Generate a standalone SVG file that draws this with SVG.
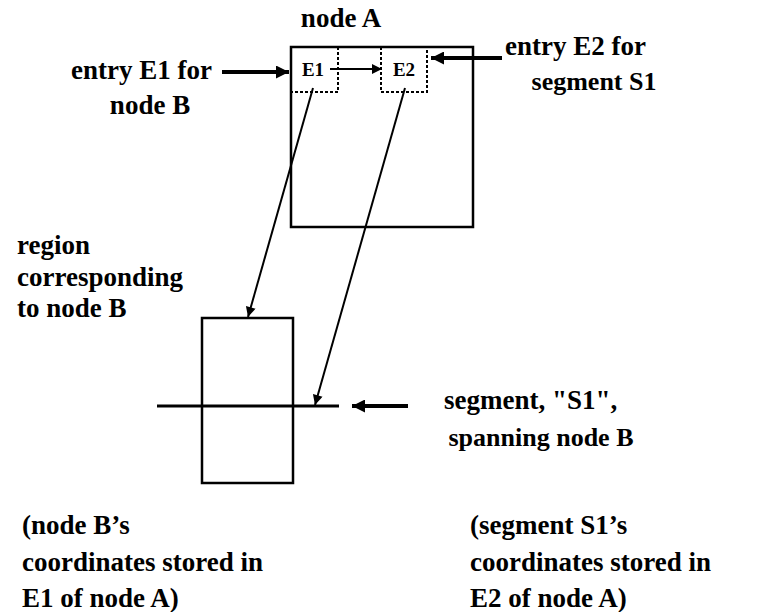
<svg xmlns="http://www.w3.org/2000/svg" width="770" height="612" viewBox="0 0 770 612">
<style>
text{font-family:"Liberation Serif","Times New Roman",serif;font-weight:bold;font-size:27px;fill:#000}
.c{text-anchor:middle}
.r{text-anchor:end}
.e{font-size:19px}
.n{font-size:26px}
.box{fill:none;stroke:#000;stroke-width:2.5}
.dot{fill:none;stroke:#000;stroke-width:2;stroke-dasharray:3,2}
.ln{fill:none;stroke:#000;stroke-width:2}
.thick{fill:none;stroke:#000;stroke-width:4}
</style>
<defs>
<marker id="ah" viewBox="0 0 10 10" refX="10" refY="5" markerUnits="userSpaceOnUse" markerWidth="11" markerHeight="10" orient="auto"><path d="M0,0 L10,5 L0,10 Z" fill="#000"/></marker>
<marker id="ahb" viewBox="0 0 10 10" refX="10" refY="5" markerUnits="userSpaceOnUse" markerWidth="14" markerHeight="13" orient="auto"><path d="M0,0 L10,5 L0,10 Z" fill="#000"/></marker>
</defs>
<rect width="770" height="612" fill="#fff"/>
<g id="nodeA">
<rect class="box" x="291" y="47" width="182" height="180"/>
<text class="c" x="341" y="27">node A</text>
</g>
<g id="entryE1">
<path class="dot" d="M338,47 V92 H291"/>
<text class="e c" x="313" y="76">E1</text>
</g>
<g id="entryE2">
<path class="dot" d="M381,47 V92 H427 V47"/>
<text class="e c" x="404" y="76">E2</text>
</g>
<g id="regionB">
<rect class="box" x="202" y="318" width="91" height="165"/>
</g>
<g id="segmentS1">
<line x1="157" y1="406" x2="339" y2="406" stroke="#000" stroke-width="3"/>
</g>
<g id="labels">
<text class="r" x="212" y="79">entry E1 for</text>
<text class="c" x="150" y="114">node B</text>
<text class="r" x="646" y="55">entry E2 for</text>
<text class="c n" x="594" y="90">segment S1</text>
<text x="17" y="254">region</text>
<text x="17" y="286">corresponding</text>
<text x="17" y="317">to node B</text>
<text x="444" y="409">segment, "S1",</text>
<text class="c n" x="541" y="446">spanning node B</text>
<text x="22" y="534">(node B’s</text>
<text x="22" y="571">coordinates stored in</text>
<text x="22" y="607">E1 of node A)</text>
<text x="470" y="534">(segment S1’s</text>
<text x="470" y="571">coordinates stored in</text>
<text x="470" y="607">E2 of node A)</text>
</g>
<g id="connectors">
<line class="ln" x1="330" y1="69" x2="382" y2="69" marker-end="url(#ah)"/>
<line class="thick" x1="222" y1="72" x2="289" y2="72" marker-end="url(#ahb)"/>
<line class="thick" x1="502" y1="58" x2="431" y2="58" marker-end="url(#ahb)"/>
<line class="thick" x1="408" y1="406" x2="352" y2="406" marker-end="url(#ahb)"/>
<line class="ln" x1="313" y1="88" x2="248" y2="317" marker-end="url(#ah)"/>
<line class="ln" x1="405" y1="88" x2="315" y2="405" marker-end="url(#ah)"/>
</g>
</svg>
